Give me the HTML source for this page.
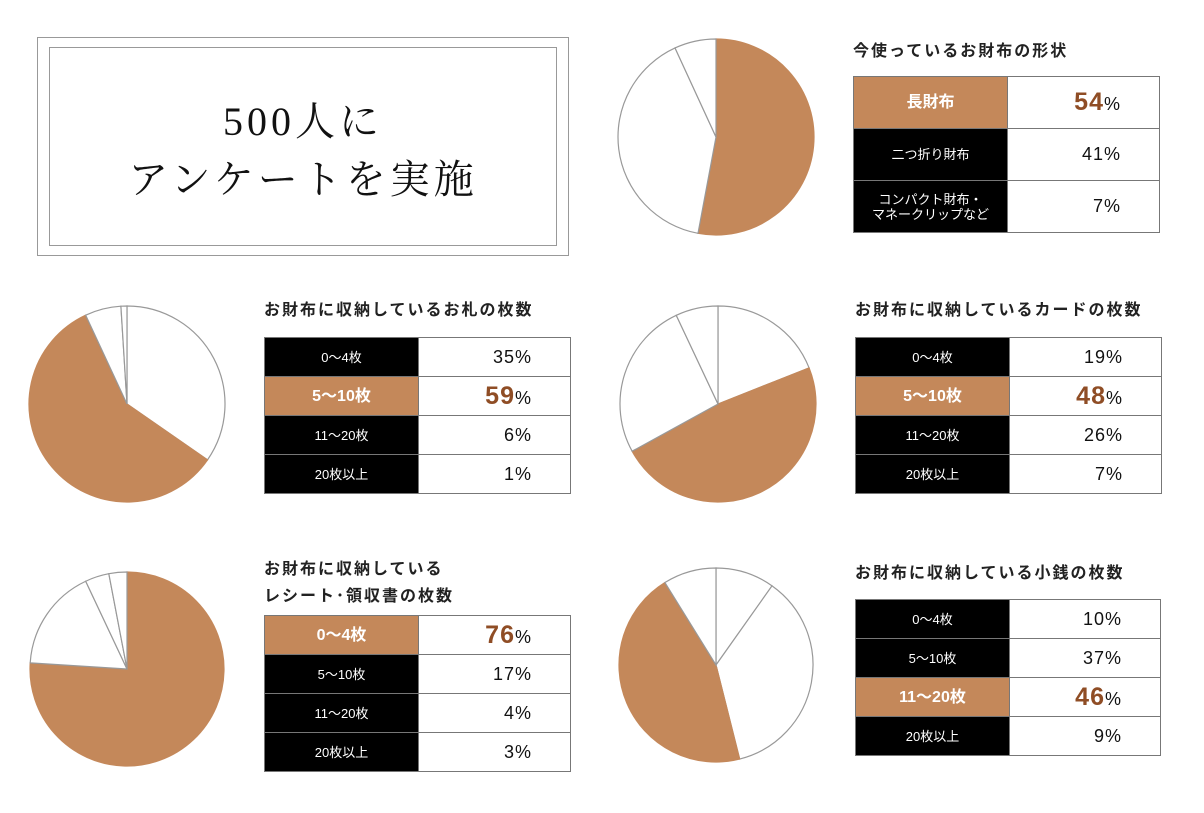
<!DOCTYPE html>
<html><head><meta charset="utf-8">
<style>
body{margin:0;background:#fff;width:1204px;height:813px;position:relative;overflow:hidden;font-family:"Liberation Sans","Noto Sans CJK JP",sans-serif;}
.abs{position:absolute}
.title{font-weight:bold;font-size:16px;letter-spacing:2px;color:#222;line-height:27px}
table{position:absolute;border-collapse:collapse}
td{border:1px solid #777;padding:0;height:38px}
td.l{background:#000;color:#fff;text-align:center;font-size:13px;width:153px;line-height:15px}
td.l.hi{background:#c4885a;font-size:16px;font-weight:bold}
td.v{background:#fff;color:#111;text-align:right;padding-right:38px;font-size:18px;letter-spacing:1px}
td.v .n{font-size:18px}
td.v.hi .n{font-size:25px;color:#8f4d25;font-weight:bold}
</style></head><body>
<div class="abs" style="left:37px;top:37px;width:530px;height:217px;border:1px solid #999"></div>
<div class="abs" style="left:49px;top:47px;width:506px;height:197px;border:1px solid #999"></div>
<div class="abs" style="left:49px;top:93px;width:508px;text-align:center;font-family:'Liberation Serif','Noto Serif CJK SC',serif;font-size:40px;line-height:58px;letter-spacing:4px;color:#111">500人に<br>アンケートを実施</div>
<svg id="pies" class="abs" style="left:0;top:0" width="1204" height="813"></svg>
<script>
const shapeLabels=["長財布","二つ折り財布","コンパクト財布・<br>マネークリップなど"];
const shapeValues=[54,41,7];
const billLabels=["0〜4枚","5〜10枚","11〜20枚","20枚以上"];
const billValues=[35,59,6,1];
const cardLabels=["0〜4枚","5〜10枚","11〜20枚","20枚以上"];
const cardValues=[19,48,26,7];
const receiptLabels=["0〜4枚","5〜10枚","11〜20枚","20枚以上"];
const receiptValues=[76,17,4,3];
const coinLabels=["0〜4枚","5〜10枚","11〜20枚","20枚以上"];
const coinValues=[10,37,46,9];
const panels=[
 {name:"wallet-shape",title:"今使っているお財布の形状",labels:shapeLabels,values:shapeValues,hi:0,cx:716,cy:137,r:98,tx:853,ty:76,tw:307,th:157,titleY:38},
 {name:"bills",title:"お財布に収納しているお札の枚数",labels:billLabels,values:billValues,hi:1,cx:127,cy:404,r:98,tx:264,ty:337,tw:307,th:157,titleY:297},
 {name:"cards",title:"お財布に収納しているカードの枚数",labels:cardLabels,values:cardValues,hi:1,cx:718,cy:404,r:98,tx:855,ty:337,tw:307,th:156,titleY:297},
 {name:"receipts",title:"お財布に収納している<br>レシート･領収書の枚数",labels:receiptLabels,values:receiptValues,hi:0,cx:127,cy:669,r:97,tx:264,ty:615,tw:307,th:157,titleY:556},
 {name:"coins",title:"お財布に収納している小銭の枚数",labels:coinLabels,values:coinValues,hi:2,cx:716,cy:665,r:97,tx:855,ty:599,tw:306,th:156,titleY:560}
];
const svg=document.getElementById('pies');
const NS="http://www.w3.org/2000/svg";
function angle(frac){return frac*2*Math.PI-Math.PI/2;}
function pt(cx,cy,r,a){return [cx+r*Math.cos(a),cy+r*Math.sin(a)];}
panels.forEach(p=>{
 const total=p.values.reduce((a,b)=>a+b,0);
 let acc=0;
 p.values.forEach((v,i)=>{
  const a0=angle(acc/total),a1=angle((acc+v)/total);acc+=v;
  const [x0,y0]=pt(p.cx,p.cy,p.r,a0),[x1,y1]=pt(p.cx,p.cy,p.r,a1);
  const large=(v/total)>0.5?1:0;
  const path=document.createElementNS(NS,'path');
  path.setAttribute('d',`M${p.cx},${p.cy} L${x0},${y0} A${p.r},${p.r} 0 ${large} 1 ${x1},${y1} Z`);
  path.setAttribute('fill',i===p.hi?'#c4885a':'#fff');
  path.setAttribute('stroke',i===p.hi?'#c4885a':'#999');
  path.setAttribute('stroke-width','1.2');
  
  
  svg.appendChild(path);
 });
 const t=document.createElement('div');
 t.className='abs title';
 t.style.left=p.tx+'px';t.style.top=p.titleY+'px';
 t.innerHTML=p.title;
 
 
 document.body.appendChild(t);
 const tb=document.createElement('table');
 tb.style.left=p.tx+'px';tb.style.top=p.ty+'px';tb.style.width=p.tw+'px';tb.style.height=p.th+'px';
 
 
 p.labels.forEach((l,i)=>{
  const tr=document.createElement('tr');
  const hi=i===p.hi?' hi':'';
  tr.innerHTML=`<td class="l${hi}">${l}</td><td class="v${hi}"><span class="n">${p.values[i]}</span>%</td>`;
  
  
  tb.appendChild(tr);
 });
 document.body.appendChild(tb);
});
</script>
</body></html>
